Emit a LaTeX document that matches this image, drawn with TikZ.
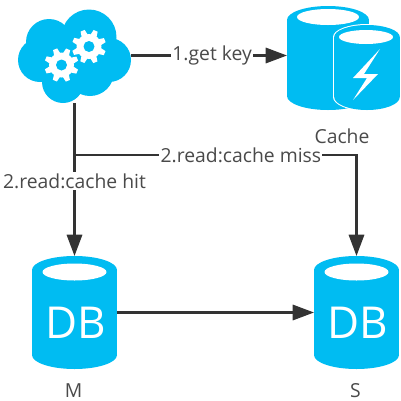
\documentclass[tikz,border=0pt]{standalone}
\usepackage{fontspec}
\setmainfont{Open Sans}
\usetikzlibrary{arrows.meta}
\definecolor{azure}{HTML}{00BCF2}
\definecolor{wire}{HTML}{333333}
\definecolor{ink}{HTML}{4A4A4A}
\tikzset{
  wireline/.style={wire,line width=1.7pt},
  wirearrow/.style={wireline,-{Triangle[length=16pt,width=11.5pt]}},
  iconbox/.style={inner sep=0pt,outer sep=0pt,minimum width=#1},
  caption/.style={ink,font=\fontsize{14.5}{16}\selectfont,inner sep=0pt},
  wirelabel/.style={caption,fill=white,inner sep=1pt}
}
\begin{document}
\begin{tikzpicture}[x=.75pt,y=-.75pt]
  \useasboundingbox (0,0) rectangle (401,401);
  % cloud with two gears
  \fill[azure] (40,60) circle (22);
  \fill[azure] (49,42) circle (23);
  \fill[azure] (89,37) circle (27.5);
  \fill[azure] (109,60) circle (22);
  \fill[azure] (63,82) circle (21);
  \fill[azure] (90,72) circle (24);
  \fill[azure] (70,60) circle (28);
  \foreach \gx/\gy in {61.5/65,89/46.5}{
    \begin{scope}[shift={(\gx,\gy)}]
      \fill[white] (0,0) circle (12.5);
      \foreach \ang in {0,45,...,315}{
        \begin{scope}[rotate=\ang+22]
          \fill[white] (10,-3.5)--(17,-2.2)--(17,2.2)--(10,3.5)--cycle;
        \end{scope}
      }
      \fill[azure] (0,0) circle (5.5);
    \end{scope}
  }
  \node[iconbox=84.75pt,minimum height=71.25pt] (cloud) at (74.5,55.5) {};
  % cache, large and small cylinder
  \fill[azure] (287,20) rectangle (369,96);
  \fill[azure] (328,20) ellipse (41 and 14);
  \fill[azure] (328,96) ellipse (41 and 14);
  \fill[white] (328,17) ellipse (31 and 8);
  \fill[white] (333,37) rectangle (401,97);
  \fill[white] (367,37) ellipse (34 and 13);
  \fill[white] (367,97) ellipse (34 and 14);
  \fill[azure] (334.2,37) rectangle (399.8,97);
  \fill[azure] (367,37) ellipse (32.8 and 12);
  \fill[azure] (367,97) ellipse (32.8 and 13);
  \fill[white] (366,37) ellipse (27 and 7);
  \fill[white] (380,49)--(353,78)--(367,78)--(353,100)--(378,74)--(364,74)--cycle;
  \node[iconbox=84.75pt,minimum height=78pt] (cache) at (343.5,58) {};
  \node[caption] (cachelabel) at (342,136) {Cache};
  % master and slave
  \foreach \dbx/\dbname in {74.5/M,356.5/S}{
    \fill[azure] (\dbx-42.5,270) rectangle (\dbx+42.5,355);
    \fill[azure] (\dbx,270) ellipse (42.5 and 14);
    \fill[azure] (\dbx,355) ellipse (42.5 and 14);
    \fill[white] (\dbx,272) ellipse (32 and 8.5);
    \node[white,inner sep=0pt,font=\fontsize{33}{34}\selectfont] (text\dbname) at (\dbx+1,323) {DB};
    \node[iconbox=63.75pt,minimum height=84.75pt] (\dbname) at (\dbx,312.5) {};
    \node[caption] (label\dbname) at (\dbx-1,391) {\dbname};
  }
  % connectors
  \coordinate (split) at (74.5,155);
  \draw[wirearrow] (cloud.east) -- node[wirelabel,pos=.52] (getkey) {1.get key} (cloud.east -| cache.west);
  \draw[wirearrow] (cloud.south) -- node[wirelabel,pos=.51] (hit) {2.read:cache hit} (M.north);
  \draw[wirearrow] (split) -- node[wirelabel,pos=.59] (miss) {2.read:cache miss} (split -| S.north) -- (S.north);
  \draw[wirearrow] (M.east) -- (S.west);
\end{tikzpicture}
\end{document}
